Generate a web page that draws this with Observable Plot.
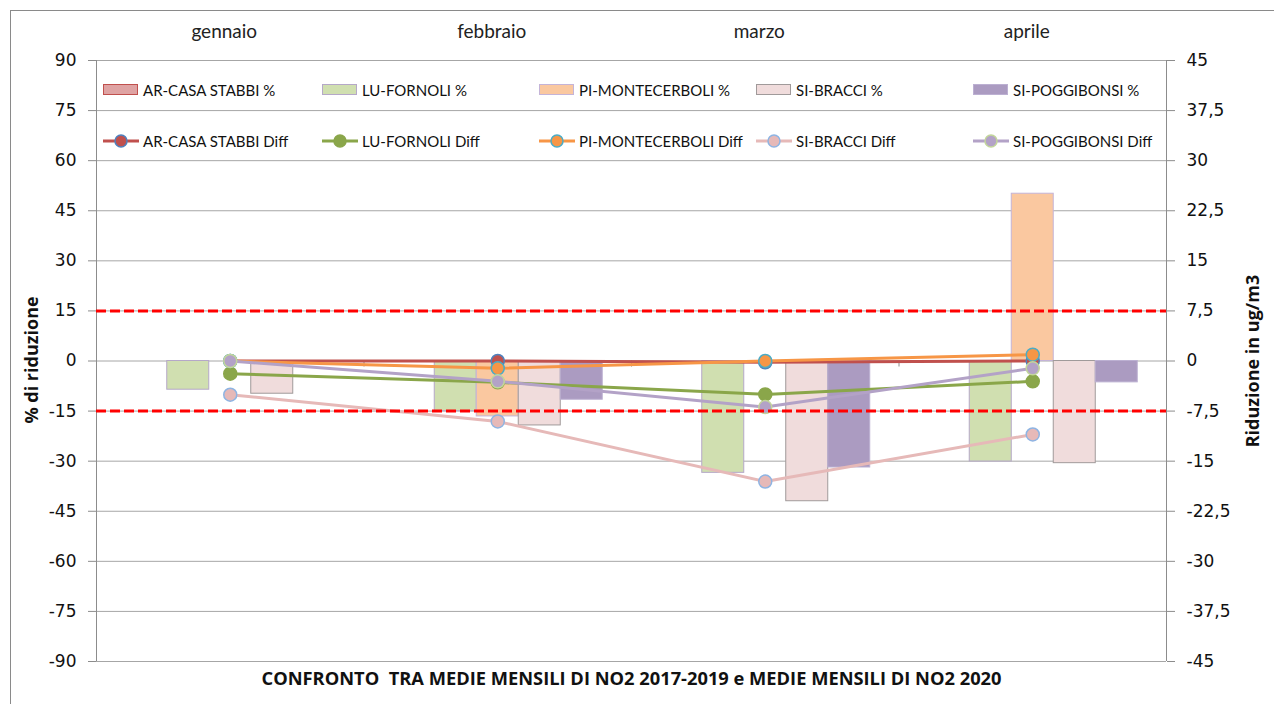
<!DOCTYPE html>
<html>
<head>
<meta charset="utf-8">
<script src="https://cdn.jsdelivr.net/npm/d3@7"></script>
<script src="https://cdn.jsdelivr.net/npm/@observablehq/plot@0.6"></script>
<style>
  html, body { margin: 0; padding: 0; background: #fff; }
  #wrap { position: relative; width: 1274px; height: 704px; overflow: hidden; }
  #border { position: absolute; left: 10px; top: 10px; width: 1300px; height: 720px; border: 1px solid #8a8a8a; pointer-events: none; }
  .leg { position: absolute; height: 20px; line-height: 20px; font-family: Lato, "Liberation Sans", sans-serif; font-size: 15px; color: #111; white-space: nowrap; display: flex; align-items: center; }
  .leg svg { margin-right: 4px; }
</style>
</head>
<body>
<div id="wrap"><div id="border"></div></div>
<script>
// ---- data ----
const months = ["gennaio", "febbraio", "marzo", "aprile"];
const stations = ["AR-CASA STABBI", "LU-FORNOLI", "PI-MONTECERBOLI", "SI-BRACCI", "SI-POGGIBONSI"];

// % reduction (left axis) per station, per month
const pctAR   = [null, null, null, null];
const pctLU   = [-8.6, -15.0, -33.5, -30.1];
const pctPI   = [null, -16.6, null, 50.1];
const pctSIB  = [-9.8, -19.3, -42.0, -30.6];
const pctSIP  = [null, -11.6, -31.9, -6.4];

// difference in ug/m3 (right axis) per station, per month
const diffAR  = [0, 0, -0.2, 0];
const diffLU  = [-1.9, -3.2, -5.0, -3.05];
const diffPI  = [0, -1.1, 0, 0.95];
const diffSIB = [-5.05, -9.05, -18.05, -11.0];
const diffSIP = [0, -3.05, -6.9, -1.1];

const leftTicks = [90, 75, 60, 45, 30, 15, 0, -15, -30, -45, -60, -75, -90];
const thresholds = [15, -15];
const title = "CONFRONTO  TRA MEDIE MENSILI DI NO2 2017-2019 e MEDIE MENSILI DI NO2 2020";

// ---- styles ----
const pctSeries = [pctAR, pctLU, pctPI, pctSIB, pctSIP];
const diffSeries = [diffAR, diffLU, diffPI, diffSIB, diffSIP];
const barFill   = ["#dfa3a3", "#d0dfb0", "#fac8a0", "#f0dcdc", "#ab9bc1"];
const barStroke = ["#c0504d", "#b5a8c8", "#c4b4d8", "#a09a9a", "#bcb0d2"];
const lineColor = ["#c0504d", "#8aa64a", "#f79646", "#e6b9b8", "#b3a2c7"];
const dotStroke = ["#4f81bd", "#8aa64a", "#4bacc6", "#8eb4e3", "#c3d69b"];
const bw = 0.157; // bar width in month units

const marks = [];
marks.push(Plot.ruleY(leftTicks, {stroke: "#a6a6a6", strokeWidth: 1}));
marks.push(Plot.ruleX([-0.5, 3.5], {stroke: "#8c8c8c"}));
marks.push(Plot.ruleX([0.5, 1.5, 2.5], {y1: 0, y2: -1.8, stroke: "#8c8c8c"}));

stations.forEach((s, k) => {
  const data = months.map((m, i) => ({m, i, v: pctSeries[k][i]})).filter(d => d.v != null);
  marks.push(Plot.rectY(data, {
    x1: d => d.i + (k - 2.5) * bw,
    x2: d => d.i + (k - 1.5) * bw,
    y1: 0, y2: "v",
    fill: barFill[k], stroke: barStroke[k], strokeWidth: 1
  }));
});

stations.forEach((s, k) => {
  const data = months.map((m, i) => ({m, i, v: diffSeries[k][i]}));
  marks.push(Plot.line(data, {x: "i", y: d => d.v * 2, stroke: lineColor[k], strokeWidth: 3}));
  marks.push(Plot.dot(data, {x: "i", y: d => d.v * 2, r: 6.5, fill: lineColor[k], stroke: dotStroke[k], strokeWidth: 1.5}));
});

marks.push(Plot.ruleY(thresholds, {stroke: "#ff0000", strokeWidth: 3, strokeDasharray: "10,4"}));

marks.push(Plot.axisY(leftTicks, {anchor: "left", tickSize: 8, tickPadding: 12, stroke: "#8c8c8c",
  fontSize: 17, fontFamily: "DejaVu Sans", fill: "#111", label: null, tickFormat: d => String(d)}));
marks.push(Plot.axisY(leftTicks, {anchor: "right", tickSize: 8, tickPadding: 12, stroke: "#8c8c8c",
  fontSize: 17, fontFamily: "DejaVu Sans", fill: "#111", label: null,
  tickFormat: d => String(d / 2).replace(".", ",")}));

marks.push(Plot.text(months, {x: (d, i) => i, frameAnchor: "top", lineAnchor: "middle", dy: -29, dx: -6,
  fontSize: 19, fontFamily: "Lato", fill: "#222"}));
marks.push(Plot.text(["% di riduzione"], {frameAnchor: "left", textAnchor: "middle", lineAnchor: "middle",
  dx: -64, dy: -1, rotate: -90, fontWeight: "bold", fontSize: 18, fontFamily: "Open Sans", fill: "#111"}));
marks.push(Plot.text(["Riduzione in ug/m3"], {frameAnchor: "right", textAnchor: "middle", lineAnchor: "middle",
  dx: 87, rotate: -90, fontWeight: "bold", fontSize: 18, fontFamily: "Open Sans", fill: "#111"}));
marks.push(Plot.text([title], {frameAnchor: "bottom", lineAnchor: "middle", dy: 18, fontWeight: "bold",
  fontSize: 18.3, fontFamily: "Open Sans", fill: "#111"}));

const chart = Plot.plot({
  width: 1274, height: 704,
  marginLeft: 96, marginRight: 108, marginTop: 60, marginBottom: 43,
  x: {type: "linear", domain: [-0.5, 3.5], axis: null},
  y: {domain: [-90, 90], axis: null},
  style: {background: "transparent", fontFamily: "Lato"},
  marks
});
const wrap = document.getElementById("wrap");
wrap.insertBefore(chart, wrap.firstChild);
chart.style.position = "absolute"; chart.style.left = "0"; chart.style.top = "0";

// ---- legend (HTML overlay) ----
const legX = [103, 322, 539, 756, 973];
const rowTop = [80, 131];
stations.forEach((s, k) => {
  const a = document.createElement("div");
  a.className = "leg";
  a.style.left = legX[k] + "px"; a.style.top = rowTop[0] + "px";
  a.innerHTML = `<svg width="36" height="12"><rect x="0.5" y="0.5" width="34" height="10" fill="${barFill[k]}" stroke="${barStroke[k]}"/></svg>${s} %`;
  wrap.appendChild(a);
  const b = document.createElement("div");
  b.className = "leg";
  b.style.left = legX[k] + "px"; b.style.top = rowTop[1] + "px";
  b.innerHTML = `<svg width="36" height="16"><line x1="0" x2="36" y1="8" y2="8" stroke="${lineColor[k]}" stroke-width="3"/><circle cx="18" cy="8" r="6" fill="${lineColor[k]}" stroke="${dotStroke[k]}" stroke-width="1.5"/></svg>${s} Diff`;
  wrap.appendChild(b);
});
</script>
</body>
</html>
